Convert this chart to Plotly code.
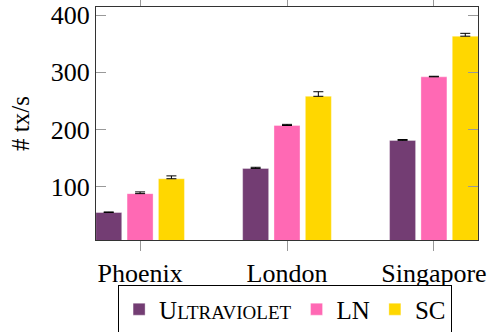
import plotly.graph_objects as go

categories = ["Phoenix", "London", "Singapore"]
series_names = ["U<span style=\"font-size:19px\">LTRAVIOLET</span>", "LN", "SC"]
ultraviolet = [55, 132, 181]
ln = [88, 207, 292]
sc = [114, 258, 363]
ultraviolet_err = [1, 2, 1.5]
ln_err = [3, 2, 1]
sc_err = [5, 8, 5]
colors = ["#733D73", "#FF69B4", "#FFD700"]
y_ticks = [100, 200, 300, 400]

fig = go.Figure()
for name, vals, errs, col in zip(series_names, [ultraviolet, ln, sc],
                                 [ultraviolet_err, ln_err, sc_err], colors):
    fig.add_trace(go.Bar(
        x=categories, y=vals, name=name,
        marker=dict(color=col, line=dict(color="rgba(255,255,255,0.35)", width=1)),
        error_y=dict(type="data", symmetric=False, array=errs,
                     arrayminus=[0] * len(errs), color="black",
                     thickness=1, width=5),
    ))

font_family = "Liberation Serif, Times New Roman, serif"
fig.update_layout(
    width=488, height=332,
    margin=dict(l=96, r=10, t=7, b=92, autoexpand=False),
    paper_bgcolor="white", plot_bgcolor="white",
    barmode="group", bargap=0.36, bargroupgap=0.17,
    font=dict(family=font_family, size=26, color="black"),
    showlegend=True,
    legend=dict(orientation="h", x=0.495, xanchor="center", y=-0.195, yanchor="top",
                bordercolor="black", borderwidth=1, font=dict(size=25),
                itemwidth=30, tracegroupgap=0),
    xaxis=dict(range=[-0.3, 2.3], showline=True, linecolor="#333", linewidth=1,
               mirror="ticks", ticks="outside", ticklen=10, tickcolor="#999",
               tickfont=dict(size=26), automargin=False),
    yaxis=dict(range=[7, 414], tickvals=y_ticks, showline=True, linecolor="#333",
               linewidth=1, mirror="ticks", ticks="inside", ticklen=10,
               tickcolor="#999", showgrid=False, zeroline=False,
               tickfont=dict(size=26), automargin=False,
               title=dict(text="# tx/s", font=dict(size=25), standoff=14)),
)
fig.write_html("out.html", config={"displayModeBar": False},
               post_script="document.body.style.margin='0';")
